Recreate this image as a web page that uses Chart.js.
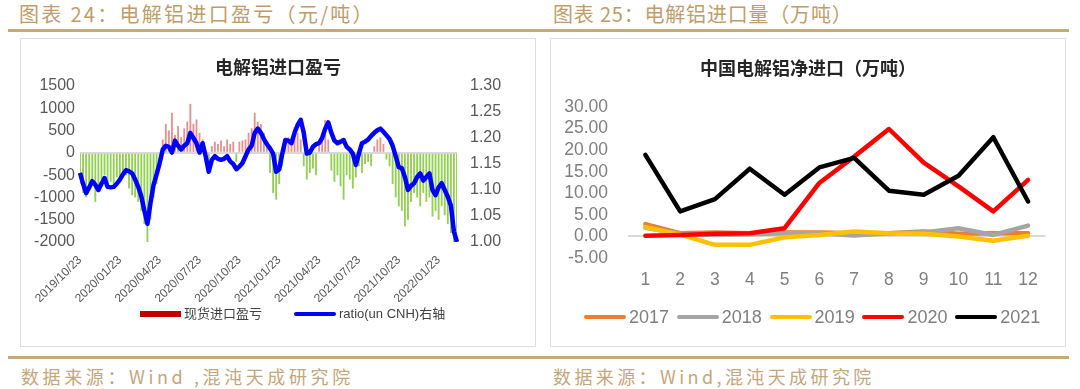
<!DOCTYPE html>
<html><head><meta charset="utf-8">
<script src="https://cdn.jsdelivr.net/npm/chart.js@4.4.0/dist/chart.umd.min.js"></script>
<style>
body{margin:0;width:1080px;height:389px;background:#fff;position:relative;overflow:hidden;font-family:"Liberation Sans",Arial,sans-serif;}
.hdr{position:absolute;top:2px;font:20px "Noto Sans CJK SC";color:#bf9d6a;white-space:nowrap;line-height:24px;letter-spacing:0.8px}
.rule{position:absolute;left:8px;width:1061px;height:3px;background:#c8a878}
.box{position:absolute;top:38px;width:514px;height:307px;border:1px solid #dedede;}
.box canvas{position:absolute;left:0;top:0}
.ctitle{position:absolute;left:0;width:514px;text-align:center;font:bold 18px "Noto Sans CJK SC";color:#262626;line-height:24px}
.src{position:absolute;top:364px;font:18px "Noto Sans CJK SC";color:#c4a77a;white-space:nowrap;line-height:24px;letter-spacing:3.6px}
.lg{position:absolute;white-space:nowrap}
.lg i{position:absolute;display:block}
.lg span{position:absolute;white-space:nowrap}
</style>
</head><body>
<div class="hdr" style="left:19px;letter-spacing:2.3px">图表 24：电解铝进口盈亏（元/吨）</div>
<div class="hdr" style="left:553px">图表 25：电解铝进口量（万吨）</div>
<div class="rule" style="top:29px"></div>
<div class="box" style="left:20px">
  <canvas id="c1" width="514" height="307"></canvas>
  <div class="ctitle" style="top:15px">电解铝进口盈亏</div>
  <div id="lg1"></div>
</div>
<div class="box" style="left:550px">
  <canvas id="c2" width="514" height="307"></canvas>
  <div class="ctitle" style="top:16px">中国电解铝净进口（万吨）</div>
  <div id="lg2"></div>
</div>
<div class="rule" style="top:356px"></div>
<div class="src" style="left:21px">数据来源：Wind ,混沌天成研究院</div>
<div class="src" style="left:553px;letter-spacing:3.4px">数据来源：Wind,混沌天成研究院</div>
<script>
// ---------- Chart 24 data (weekly samples) ----------
const quarterLabels = ["2019/10/23","2020/01/23","2020/04/23","2020/07/23","2020/10/23","2021/01/23","2021/04/23","2021/07/23","2021/10/23","2022/01/23"];
const importPnl = [
 -700,-900,-1000,-850,-700,-1100,-750,-600,-500,-800,
 -650,-700,-550,-600,-450,-500,-800,-950,-1000,-1100,
 -1300,-1600,-2000,-1500,-1000,-700,-300,300,650,500,
 900,400,600,350,550,700,1100,650,750,450,
 300,-150,-350,150,250,200,280,150,300,200,
 250,-200,250,280,300,450,550,900,700,650,
 450,200,-450,-900,-1050,-700,-300,200,350,250,
 580,450,300,-300,-600,-450,-350,-500,200,450,
 740,300,-400,-650,-500,-750,-1050,-500,-600,-800,
 -550,-300,-450,-250,-200,-300,150,300,350,200,
 -150,-300,-700,-1000,-1200,-1300,-1650,-1500,-1100,-900,
 -1000,-1200,-900,-1100,-1000,-1430,-1300,-1500,-1200,-1400,
 -1600,-1800,-2000,-2000
];
const ratioCNH = [
 1.133,1.112,1.094,1.105,1.117,1.110,1.100,1.112,1.123,1.106,
 1.105,1.106,1.112,1.120,1.130,1.138,1.136,1.132,1.120,1.106,
 1.088,1.060,1.035,1.075,1.110,1.130,1.152,1.178,1.185,1.183,
 1.172,1.195,1.185,1.178,1.185,1.190,1.210,1.200,1.190,1.172,
 1.190,1.165,1.135,1.158,1.165,1.160,1.158,1.160,1.165,1.155,
 1.150,1.140,1.145,1.152,1.165,1.178,1.185,1.210,1.218,1.210,
 1.198,1.188,1.180,1.170,1.135,1.140,1.170,1.196,1.195,1.190,
 1.210,1.225,1.235,1.210,1.170,1.172,1.183,1.188,1.190,1.200,
 1.218,1.230,1.210,1.195,1.190,1.193,1.196,1.183,1.178,1.170,
 1.148,1.170,1.190,1.193,1.197,1.204,1.210,1.215,1.218,1.212,
 1.205,1.198,1.185,1.165,1.144,1.142,1.125,1.100,1.108,1.113,
 1.125,1.132,1.118,1.125,1.132,1.100,1.090,1.105,1.113,1.100,
 1.087,1.070,1.020,1.000
];
const dateLabels = ratioCNH.map((_, i) => i % 13 === 0 ? quarterLabels[i / 13] : "");

// ---------- Chart 25 data ----------
const months = ["1","2","3","4","5","6","7","8","9","10","11","12"];
const y2017 = [2.85,0.75,0.9,0.75,0.9,0.9,0.75,0.75,1.15,0.6,0.75,0.75];
const y2018 = [2.0,0.6,0.35,0.5,0.75,0.75,0.2,0.75,0.9,1.9,0.35,2.5];
const y2019 = [2.15,0.4,-1.95,-1.95,-0.2,0.35,1.15,0.75,0.6,0.0,-1.0,0.15];
const y2020 = [0.15,0.35,0.6,0.75,1.9,12.4,18.5,24.9,17.1,11.6,5.8,13.1];
const y2021 = [18.9,5.8,8.65,15.7,9.65,16.0,18.2,10.6,9.65,14.06,23.0,8.1];

const FONT = "'Liberation Sans', Arial, sans-serif";

// ---------- Chart 24 ----------
new Chart(document.getElementById('c1'), {
  data: {
    labels: dateLabels,
    datasets: [
      {type:'line', label:'ratio(un CNH)右轴', data: ratioCNH, yAxisID:'yR', borderColor:'#0000ff',
       borderWidth:4.5, pointRadius:0, tension:0, order:0, borderJoinStyle:'round'},
      {type:'bar', label:'现货进口盈亏', data: importPnl, yAxisID:'yL',
       backgroundColor: c => (c.raw >= 0 ? 'rgba(215,70,70,0.6)' : '#92d050'),
       barPercentage:0.6, categoryPercentage:1, order:1}
    ]
  },
  options: {
    animation:false, responsive:false, maintainAspectRatio:false,
    layout:{padding:{top:47,bottom:44,left:0,right:0}},
    plugins:{legend:{display:false},tooltip:{enabled:false}},
    scales:{
      x:{offset:false, grid:{display:false}, border:{display:false},
         ticks:{autoSkip:false,minRotation:45,maxRotation:45,font:{family:FONT,size:12},color:'#595959',padding:3},
         afterFit:s=>{s.height=60;}},
      yL:{position:'left', min:-2000, max:1500,
          ticks:{stepSize:500,autoSkip:false,callback:v=>String(v),font:{family:FONT,size:16},color:'#595959',padding:5},
          grid:{color:c=>(c.tick && c.tick.value===0 ? '#d9d9d9' : 'rgba(0,0,0,0)'), drawTicks:false, lineWidth:2},
          border:{display:false}, afterFit:s=>{s.width=59;}},
      yR:{position:'right', min:1.0, max:1.3,
          ticks:{stepSize:0.05,autoSkip:false,callback:v=>Number(v).toFixed(2),font:{family:FONT,size:16},color:'#595959',padding:13},
          grid:{display:false,drawTicks:false}, border:{display:false}, afterFit:s=>{s.width=78;}}
    }
  }
});

// ---------- Chart 25 ----------
const series = [
  {label:'2017', data:y2017, color:'#ed7d31'},
  {label:'2018', data:y2018, color:'#a5a5a5'},
  {label:'2019', data:y2019, color:'#ffc000'},
  {label:'2020', data:y2020, color:'#ff0000'},
  {label:'2021', data:y2021, color:'#000000'}
];
new Chart(document.getElementById('c2'), {
  type:'line',
  data:{labels:months, datasets: series.map((s,i)=>({label:s.label,data:s.data,borderColor:s.color,backgroundColor:s.color,
    borderWidth:4.5,pointRadius:0,tension:0,borderJoinStyle:'round',borderCapStyle:'round',order:series.length-i}))},
  options:{
    animation:false, responsive:false, maintainAspectRatio:false,
    layout:{padding:{top:68,bottom:48,left:0,right:19.5}},
    plugins:{legend:{display:false},tooltip:{enabled:false}},
    scales:{
      x:{offset:true, grid:{display:false}, border:{display:false},
         ticks:{font:{family:FONT,size:17.5},color:'#7f7f7f',padding:4}, afterFit:s=>{s.height=40;}},
      y:{min:-5,max:30,
         ticks:{stepSize:5,autoSkip:false,callback:v=>Number(v).toFixed(2),font:{family:FONT,size:17.5},color:'#7f7f7f',padding:20},
         grid:{color:c=>(c.tick && c.tick.value===0 ? '#d9d9d9' : 'rgba(0,0,0,0)'), drawTicks:false, lineWidth:2},
         border:{display:false}, afterFit:s=>{s.width=77;}}
    }
  }
});

// ---------- legends (HTML) ----------
function legend(id, items, top, font, color){
  const el = document.getElementById(id);
  el.className='lg'; el.style.left='0'; el.style.top=top+'px';
  items.forEach(it=>{
    const m=document.createElement('i');
    m.style.cssText=`left:${it.x}px;top:${-it.h/2}px;width:${it.w}px;height:${it.h}px;background:${it.color};border-radius:${it.r||0}px`;
    el.appendChild(m);
    const t=document.createElement('span');
    t.textContent=it.label;
    t.style.cssText=`left:${it.x+it.w+3}px;top:${-font*0.62}px;font:${font}px 'Liberation Sans','Noto Sans CJK SC',sans-serif;color:${color};line-height:${font*1.25}px`;
    el.appendChild(t);
  });
}
legend('lg1',[
  {x:119,w:41,h:6,color:'#c00000',label:'现货进口盈亏'},
  {x:273,w:42,h:4,color:'#0000ff',label:'ratio(un CNH)右轴',r:2}
],275,13,'#404040');
legend('lg2',series.map((s,i)=>({x:33+i*92.8,w:42,h:4.5,color:s.color,label:s.label,r:2.25})),278,18,'#7f7f7f');
</script>
</body></html>
